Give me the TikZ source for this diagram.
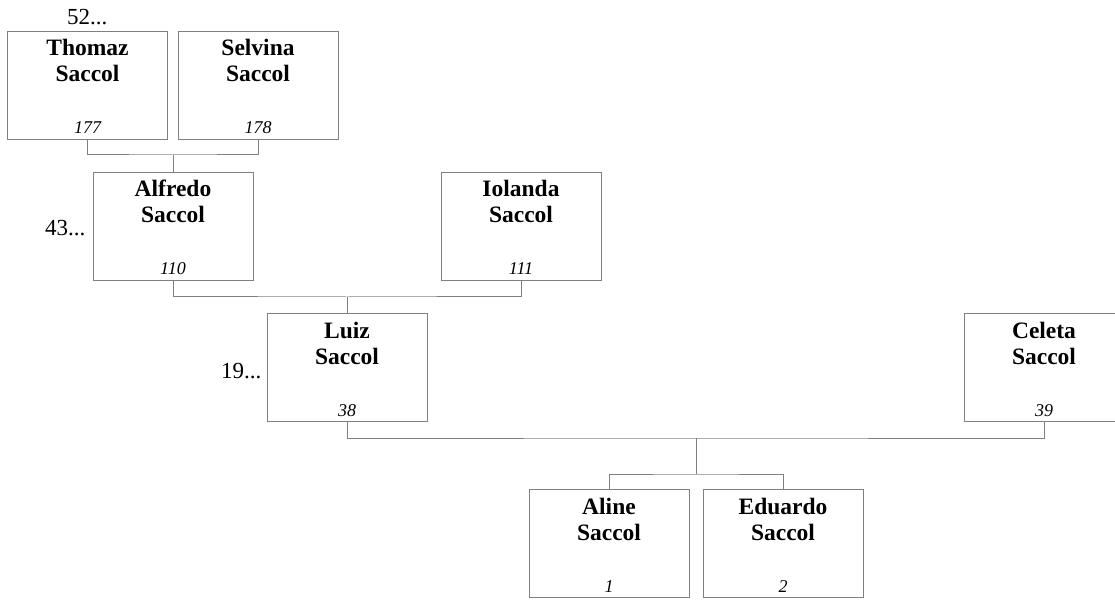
\documentclass[tikz,border=0pt]{standalone}
\usepackage{fontspec}
\setmainfont{Liberation Serif}
\definecolor{lineg}{RGB}{128,128,128}
\tikzset{
  box/.style={draw=lineg, line width=1pt, minimum width=160pt, minimum height=108pt, inner sep=0pt, anchor=north},
  nm/.style={anchor=base, inner sep=0pt, font=\fontsize{23.5}{27}\selectfont\bfseries},
  num/.style={anchor=base, inner sep=0pt, font=\fontsize{18}{22}\selectfont\itshape},
  gen/.style={anchor=base west, inner sep=0pt, font=\fontsize{23}{27}\selectfont},
  conn/.style={draw=lineg, line width=1pt}
}
\newcommand{\personbox}[5]{%
  \node[box] (#1) at (#2,#3) {};
  \node[nm] (#1-a) at ([yshift=-25pt]#1.north) {#4};
  \node[nm] (#1-b) at ([yshift=-51pt]#1.north) {Saccol};
  \node[num] (#1-n) at ([yshift=6pt]#1.south) {#5};
}
\begin{document}
\begin{tikzpicture}[x=1pt,y=-1pt]
\useasboundingbox (0,0) rectangle (1115,601);
\begin{scope}
\clip (0,0) rectangle (1115,601);
\personbox{thomaz}{87.5}{31}{Thomaz}{177}
\personbox{selvina}{258}{31}{Selvina}{178}
\personbox{alfredo}{173}{172}{Alfredo}{110}
\personbox{iolanda}{521}{172}{Iolanda}{111}
\personbox{luiz}{347}{313}{Luiz}{38}
\personbox{celeta}{1044}{313}{Celeta}{39}
\personbox{aline}{609}{489}{Aline}{1}
\personbox{eduardo}{783}{489}{Eduardo}{2}

\node[gen] (g52) at (67,25) {52...};
\node[gen] (g43) at (45,236) {43...};
\node[gen] (g19) at (221,378) {19...};

\coordinate (j1) at (173,155);
\coordinate (j2) at (347,297);
\coordinate (j3) at (696,438);
\coordinate (j4) at (696,474);

\draw[conn] (thomaz.south) |- (j1) -| (selvina.south);
\draw[conn] (j1) -- (alfredo.north);
\draw[conn] (alfredo.south) |- (j2) -| (iolanda.south);
\draw[conn] (j2) -- (luiz.north);
\draw[conn] (luiz.south) |- (j3) -| (celeta.south);
\draw[conn] (j3) -- (j4);
\draw[conn] (aline.north) |- (j4) -| (eduardo.north);
\end{scope}
\end{tikzpicture}
\end{document}
